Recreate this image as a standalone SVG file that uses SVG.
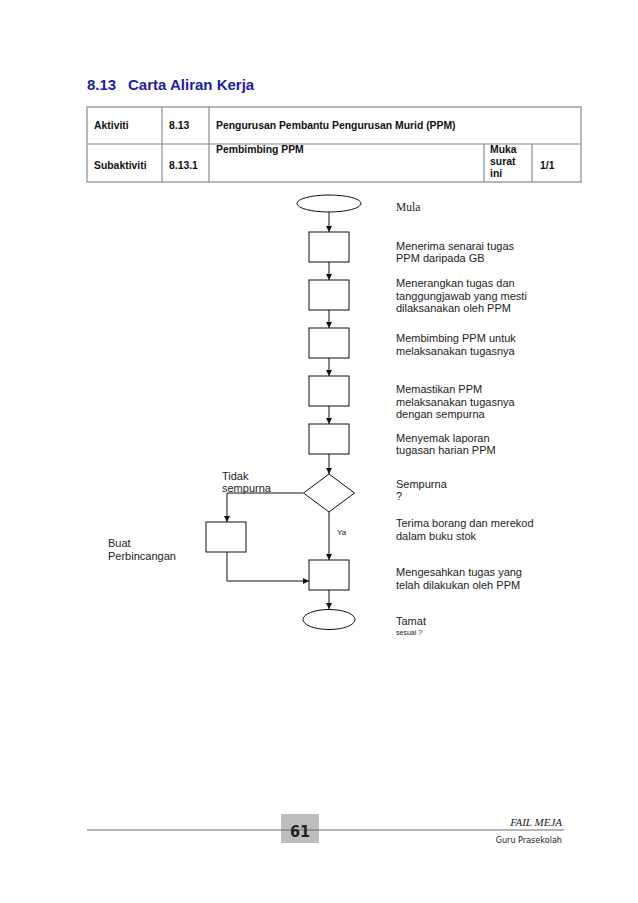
<svg xmlns="http://www.w3.org/2000/svg" width="638" height="903" viewBox="0 0 638 903">
<style>
.title{font-family:"Liberation Sans",Arial,sans-serif;font-weight:bold;font-size:15px;fill:#1c1ca6}
.th{font-family:"Liberation Sans",Arial,sans-serif;font-weight:bold;font-size:10.4px;fill:#111}
.tbl{stroke:#8a8a8a;stroke-width:1.2;fill:none}
.lbl{font-family:"Liberation Sans",Arial,sans-serif;font-size:11px;fill:#222}
.ser{font-family:"Liberation Serif","Times New Roman",serif;font-size:11.5px;fill:#222}
.sm{font-family:"Liberation Sans",Arial,sans-serif;font-size:8px;fill:#222}
.shape{fill:#fff;stroke:#111;stroke-width:1}
.conn{fill:none;stroke:#111;stroke-width:1}
</style>
<defs>
<marker id="arr" viewBox="0 0 10 10" refX="10" refY="5" markerWidth="6" markerHeight="6" markerUnits="userSpaceOnUse" orient="auto">
<path d="M0,0 L10,5 L0,10 z" fill="#111"/>
</marker>
</defs>
<rect width="638" height="903" fill="#fff"/>
<text class="title" x="87" y="90"><tspan x="87">8.13</tspan><tspan x="128">Carta Aliran Kerja</tspan></text>
<g id="table">
<rect class="tbl" x="87" y="107" width="494" height="75"/>
<line class="tbl" x1="87" y1="144" x2="581" y2="144"/>
<line class="tbl" x1="162" y1="107" x2="162" y2="182"/>
<line class="tbl" x1="209" y1="107" x2="209" y2="182"/>
<line class="tbl" x1="484" y1="144" x2="484" y2="182"/>
<line class="tbl" x1="532" y1="144" x2="532" y2="182"/>
<text class="th" x="94" y="129">Aktiviti</text>
<text class="th" x="169" y="129">8.13</text>
<text class="th" x="216" y="129">Pengurusan Pembantu Pengurusan Murid (PPM)</text>
<text class="th" x="94" y="169">Subaktiviti</text>
<text class="th" x="169" y="169">8.13.1</text>
<text class="th" x="216" y="153">Pembimbing PPM</text>
<text class="th" x="490" y="153">Muka</text>
<text class="th" x="490" y="165">surat</text>
<text class="th" x="490" y="177">ini</text>
<text class="th" x="540" y="169">1/1</text>
</g>
<g id="connectors">
<line class="conn" x1="329" y1="212" x2="329" y2="232" marker-end="url(#arr)"/>
<line class="conn" x1="329" y1="262" x2="329" y2="280" marker-end="url(#arr)"/>
<line class="conn" x1="329" y1="310" x2="329" y2="328" marker-end="url(#arr)"/>
<line class="conn" x1="329" y1="358" x2="329" y2="376" marker-end="url(#arr)"/>
<line class="conn" x1="329" y1="406" x2="329" y2="424" marker-end="url(#arr)"/>
<line class="conn" x1="329" y1="454" x2="329" y2="474" marker-end="url(#arr)"/>
<line class="conn" x1="329" y1="512" x2="329" y2="560" marker-end="url(#arr)"/>
<polyline class="conn" points="303,493 227,493 227,522" marker-end="url(#arr)"/>
<polyline class="conn" points="227,552 227,581 309,581" marker-end="url(#arr)"/>
<line class="conn" x1="329" y1="590" x2="329" y2="609" marker-end="url(#arr)"/>
<text class="sm" x="337" y="535">Ya</text>
</g>
<g id="start"><ellipse class="shape" cx="329" cy="203.5" rx="32" ry="8.5"/><text class="ser" x="396" y="211">Mula</text></g>
<g id="step1"><rect class="shape" x="309" y="232" width="40" height="30"/><text class="lbl" x="396" y="250">Menerima senarai tugas</text><text class="lbl" x="396" y="262">PPM daripada GB</text></g>
<g id="step2"><rect class="shape" x="309" y="280" width="40" height="30"/><text class="lbl" x="396" y="287">Menerangkan tugas dan</text><text class="lbl" x="396" y="299.5">tanggungjawab yang mesti</text><text class="lbl" x="396" y="312">dilaksanakan oleh PPM</text></g>
<g id="step3"><rect class="shape" x="309" y="328" width="40" height="30"/><text class="lbl" x="396" y="342">Membimbing PPM untuk</text><text class="lbl" x="396" y="355">melaksanakan tugasnya</text></g>
<g id="step4"><rect class="shape" x="309" y="376" width="40" height="30"/><text class="lbl" x="396" y="393">Memastikan PPM</text><text class="lbl" x="396" y="405.5">melaksanakan tugasnya</text><text class="lbl" x="396" y="418">dengan sempurna</text></g>
<g id="step5"><rect class="shape" x="309" y="424" width="40" height="30"/><text class="lbl" x="396" y="441.5">Menyemak laporan</text><text class="lbl" x="396" y="454">tugasan harian PPM</text></g>
<g id="decision"><polygon class="shape" points="329,474 354.5,493 329,512 303.5,493"/><text class="lbl" x="396" y="488">Sempurna</text><text class="lbl" x="396" y="500">?</text>
<text class="lbl" x="222" y="480">Tidak</text><text class="lbl" x="222" y="492">sempurna</text></g>
<g id="discuss"><rect class="shape" x="206" y="522" width="40" height="30"/><text class="lbl" x="108" y="547">Buat</text><text class="lbl" x="108" y="559.5">Perbincangan</text></g>
<g id="note"><text class="lbl" x="396" y="527">Terima borang dan merekod</text><text class="lbl" x="396" y="540">dalam buku stok</text></g>
<g id="step6"><rect class="shape" x="309" y="560" width="40" height="30"/><text class="lbl" x="396" y="576">Mengesahkan tugas yang</text><text class="lbl" x="396" y="588.5">telah dilakukan oleh PPM</text></g>
<g id="end"><ellipse class="shape" cx="329" cy="619.5" rx="26" ry="10"/><text class="lbl" x="396" y="625">Tamat</text><text class="sm" x="396" y="635" style="font-size:7px">sesuai ?</text></g>
<g id="footer">
<rect x="281" y="814" width="38" height="29" fill="#bdbdbd"/>
<line x1="87" y1="830" x2="564" y2="830" stroke="#6e6e6e" stroke-width="1.2"/>
<text x="300" y="837" text-anchor="middle" style="font-family:'DejaVu Sans Condensed','Liberation Sans',sans-serif;font-weight:bold;font-size:16px;fill:#222">61</text>
<text x="562" y="826" text-anchor="end" style="font-family:'Liberation Serif',serif;font-style:italic;font-size:11px;fill:#222">FAIL MEJA</text>
<text x="562" y="843" text-anchor="end" style="font-family:'DejaVu Sans Condensed','Liberation Sans',sans-serif;font-size:9px;fill:#222">Guru Prasekolah</text>
</g>
</svg>
